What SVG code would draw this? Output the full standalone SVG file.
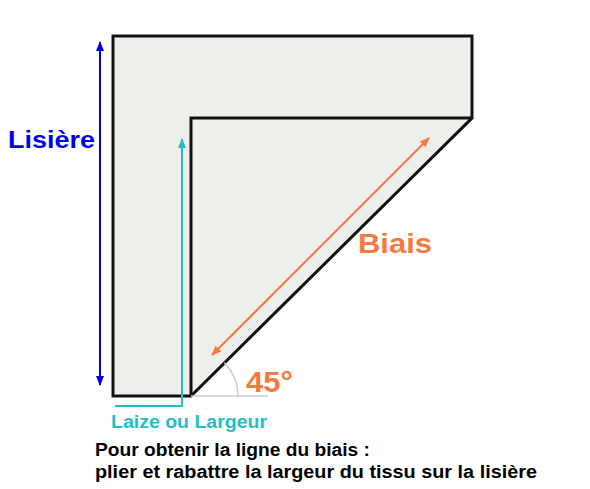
<svg xmlns="http://www.w3.org/2000/svg" width="590" height="489" viewBox="0 0 590 489">
<style>
.shape{fill:#eeeeeb;stroke:#111;stroke-width:3;stroke-linejoin:miter}
.edge{fill:none;stroke:#111;stroke-width:3}
.lbl{font-family:"Liberation Sans",Arial,sans-serif;font-weight:bold}
</style>
<defs>
<marker id="ab" viewBox="0 0 10 10" refX="9" refY="5" markerWidth="10" markerHeight="10" markerUnits="userSpaceOnUse" orient="auto-start-reverse"><path d="M0,1 L10,5 L0,9 Z" fill="#0000ee"/></marker>
<marker id="ac" viewBox="0 0 10 10" refX="9" refY="5" markerWidth="11" markerHeight="10" markerUnits="userSpaceOnUse" orient="auto"><path d="M0,1 L10,5 L0,9 Z" fill="#1ec0c6"/></marker>
<marker id="ao" viewBox="0 0 10 10" refX="9" refY="5" markerWidth="11" markerHeight="10" markerUnits="userSpaceOnUse" orient="auto-start-reverse"><path d="M0,1 L10,5 L0,9 Z" fill="#f47a3e"/></marker>
</defs>
<rect width="590" height="489" fill="#ffffff"/>
<g id="fabric">
<path class="shape" d="M113,36 H472 V118 L191,396 H113 Z"/>
<path class="edge" d="M191,396 V118 H472"/>
</g>
<g id="angle">
<path d="M191,396 H268" fill="none" stroke="#cccccc" stroke-width="1.5"/>
<path d="M224.2,362.8 A47,47 0 0 1 238,396" fill="none" stroke="#cccccc" stroke-width="1.5"/>
</g>
<g id="connectors">
<line x1="100" y1="385" x2="100" y2="42" stroke="#0000ee" stroke-width="2" marker-start="url(#ab)" marker-end="url(#ab)"/>
<path d="M115,406 H182 V139" fill="none" stroke="#1ec0c6" stroke-width="2" marker-end="url(#ac)"/>
<line x1="212" y1="355" x2="429" y2="138" stroke="#f47a3e" stroke-width="2" marker-start="url(#ao)" marker-end="url(#ao)"/>
</g>
<g id="labels">
<text class="lbl" x="8" y="148" font-size="23" fill="#0000ee" textLength="87" lengthAdjust="spacingAndGlyphs">Lisière</text>
<text class="lbl" x="358" y="253" font-size="27" fill="#f47a3e" textLength="74" lengthAdjust="spacingAndGlyphs">Biais</text>
<text class="lbl" x="246" y="392" font-size="30" fill="#f47a3e" textLength="47" lengthAdjust="spacingAndGlyphs">45°</text>
<text class="lbl" x="111" y="428" font-size="17.5" fill="#1ec0c6" textLength="156" lengthAdjust="spacingAndGlyphs">Laize ou Largeur</text>
<text class="lbl" x="95" y="456" font-size="17.5" fill="#000" textLength="275" lengthAdjust="spacingAndGlyphs">Pour obtenir la ligne du biais :</text>
<text class="lbl" x="95" y="478" font-size="17.5" fill="#000" textLength="442" lengthAdjust="spacingAndGlyphs">plier et rabattre la largeur du tissu sur la lisière</text>
</g>
</svg>
